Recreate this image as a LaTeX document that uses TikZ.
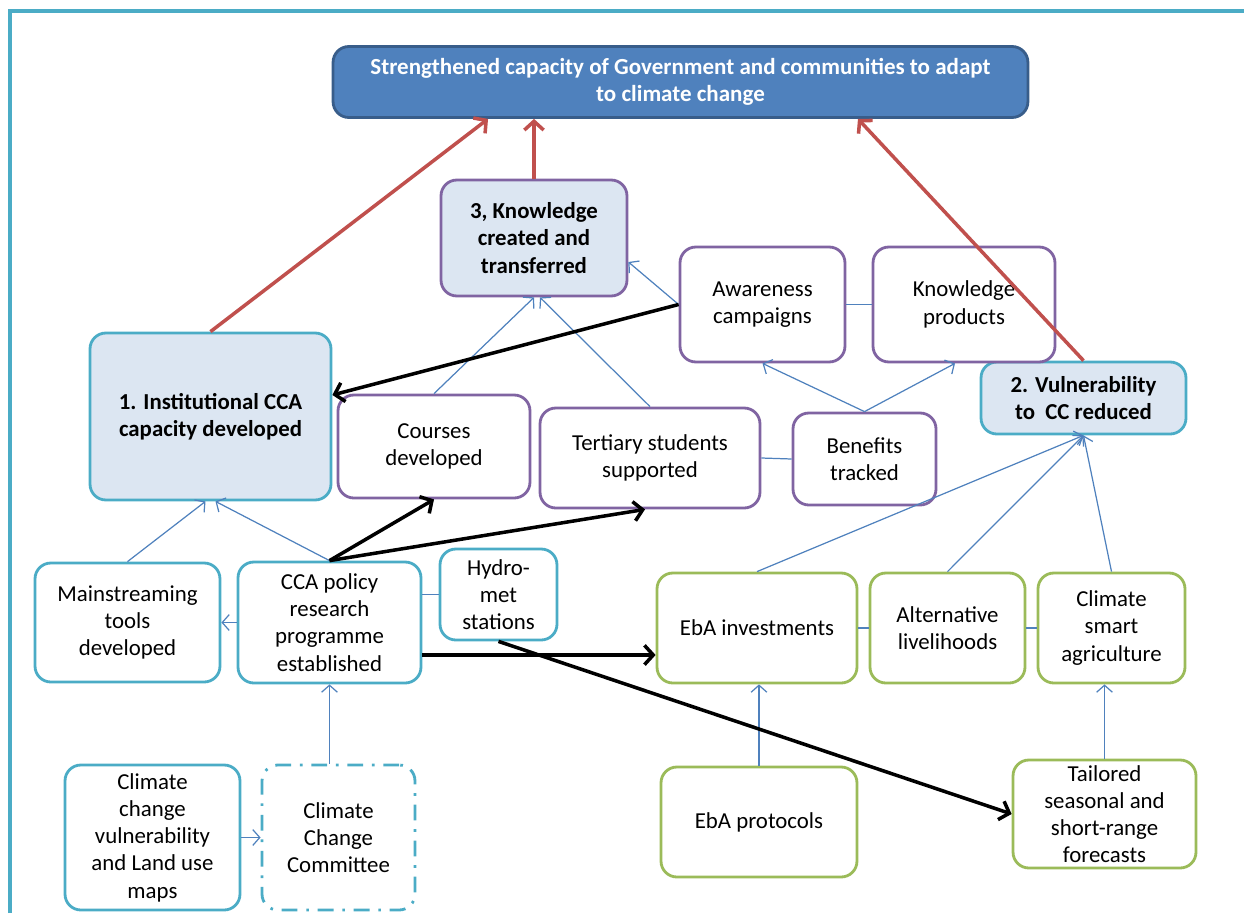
\documentclass[tikz,border=0pt]{standalone}
\usepackage{fontspec}
\setmainfont{Carlito}
\usetikzlibrary{arrows.meta}

\definecolor{frameteal}{RGB}{75,172,198}
\definecolor{instteal}{RGB}{75,172,198}
\definecolor{knowpurple}{RGB}{128,100,162}
\definecolor{fieldgreen}{RGB}{155,187,89}
\definecolor{paleblue}{RGB}{220,230,242}
\definecolor{goalblue}{RGB}{79,129,189}
\definecolor{goalrim}{RGB}{56,93,138}
\definecolor{linkblue}{RGB}{79,129,189}
\definecolor{liftred}{RGB}{192,80,77}

\begin{document}
\begin{tikzpicture}[x=0.02cm, y=-0.02cm,
	box/.style	= {draw, rounded corners=9pt, line width=1.6pt, align=center, inner sep=2pt, fill=white, font=\fontsize{13}{15.5}\selectfont},
	knowbox/.style	= {box, draw=knowpurple},
	instbox/.style	= {box, draw=instteal},
	fieldbox/.style	= {box, draw=fieldgreen},
	outcome/.style	= {fill=paleblue, font=\bfseries\fontsize{13}{15.5}\selectfont},
	goal/.style	= {box, draw=goalrim, fill=goalblue, text=white, font=\bfseries\fontsize{13.1}{15.5}\selectfont},
	link/.style	= {draw=linkblue, line width=0.7pt},
	feed/.style	= {link, -{Straight Barb[length=4pt,width=9pt]}},
	push/.style	= {line width=2pt, -{Straight Barb[length=5pt,width=11pt]}},
	lift/.style	= {push, draw=liftred},
	]
	\useasboundingbox (0,0) rectangle (1244,913);
	\draw[frameteal, line width=2.3pt] (10,913) -- (10,11) -- (1244,11);

	% goal and outcomes
	\node (goal) at (680.5, 82)	[goal, minimum width=13.9cm, minimum height=1.42cm]	{Strengthened capacity of Government and communities to adapt\\to climate change};
	\node (know) at (534, 238)	[knowbox, outcome, minimum width=3.72cm, minimum height=2.32cm]	{3, Knowledge\\created and\\transferred};
	\node (inst) at (210.5, 416.5)	[instbox, outcome, minimum width=4.82cm, minimum height=3.34cm]	{1. Institutional CCA\\capacity developed};
	\node (vuln) at (1083.5, 398)	[instbox, outcome, minimum width=4.1cm, minimum height=1.44cm]	{2. Vulnerability\\to\ \ CC reduced};

	% knowledge outputs
	\node (aware) at (762.5, 304.5)	[knowbox, minimum width=3.3cm, minimum height=2.3cm]	{Awareness\\campaigns};
	\node (prod) at (964, 304.5)	[knowbox, minimum width=3.64cm, minimum height=2.3cm]	{Knowledge\\products};
	\node (course) at (434, 446.5)	[knowbox, minimum width=3.84cm, minimum height=2.06cm]	{Courses\\developed};
	\node (tert) at (650, 458)	[knowbox, minimum width=4.4cm, minimum height=2.0cm]	{Tertiary students\\supported};
	\node (benef) at (864.5, 459)	[knowbox, minimum width=2.86cm, minimum height=1.84cm]	{Benefits\\tracked};

	% institutional outputs
	\node (mainst) at (127.5, 622.5)	[instbox, minimum width=3.7cm, minimum height=2.38cm]	{Mainstreaming\\tools\\developed};
	\node (policy) at (329.5, 622.5)	[instbox, minimum width=3.66cm, minimum height=2.42cm]	{CCA policy\\research\\programme\\established};
	\node (hydro) at (498.5, 594.5)	[instbox, minimum width=2.34cm, minimum height=1.82cm]	{Hydro-\\met\\stations};
	\node (maps) at (152.5, 837.5)	[instbox, minimum width=3.5cm, minimum height=2.9cm]	{Climate\\change\\vulnerability\\and Land use\\maps};
	\node (comm) at (338.5, 837.5)	[instbox, dash pattern=on 9pt off 5pt on 1.5pt off 5pt, minimum width=3.06cm, minimum height=2.9cm]	{Climate\\Change\\Committee};

	% vulnerability outputs
	\node (ebainv) at (757, 628)	[fieldbox, minimum width=4.0cm, minimum height=2.2cm]	{EbA investments};
	\node (altliv) at (947.5, 628)	[fieldbox, minimum width=3.1cm, minimum height=2.2cm]	{Alternative\\livelihoods};
	\node (smart) at (1111.5, 628)	[fieldbox, minimum width=2.94cm, minimum height=2.2cm]	{Climate\\smart\\agriculture};
	\node (ebaprot) at (759, 822)	[fieldbox, minimum width=3.92cm, minimum height=2.2cm]	{EbA protocols};
	\node (tailor) at (1104.5, 814)	[fieldbox, inner ysep=0pt, minimum width=3.66cm, minimum height=2.16cm]	{Tailored\\seasonal and\\short-range\\forecasts};

	% thin links
	\draw[feed] (aware.west) -- ([yshift=-0.48cm]know.east);
	\draw[feed] (course.north) -- (know.south);
	\draw[feed] (tert.north) -- ([xshift=0.12cm]know.south);
	\draw[link] (aware.east) -- (prod.west);
	\draw[link] (tert.east) -- (benef.west);
	\draw[feed] (benef.north) -- (aware.south);
	\draw[feed] (benef.north) -- ([xshift=-0.18cm]prod.south);
	\draw[feed] (mainst.north) -- ([xshift=-0.1cm]inst.south);
	\draw[feed] (policy.north) -- ([xshift=0.1cm]inst.south);
	\draw[feed] (policy.west) -- (mainst.east);
	\draw[link] (hydro.west) -- (hydro.west -| policy.east);
	\draw[feed] (policy.south |- comm.north) -- (policy.south);
	\draw[feed] (maps.east) -- (comm.west);
	\draw[feed] (ebainv.north) -- (vuln.south);
	\draw[feed] (altliv.north) -- (vuln.south);
	\draw[feed] (smart.north) -- (vuln.south);
	\draw[link] (ebainv.east) -- (altliv.west);
	\draw[link] (altliv.east) -- (smart.west);
	\draw[feed] (ebaprot.north) -- (ebaprot.north |- ebainv.south);
	\draw[feed] (tailor.north) -- (tailor.north |- smart.south);

	% thick links
	\draw[push] (aware.west) -- ([yshift=0.43cm]inst.east);
	\draw[push] (policy.north) -- (course.south);
	\draw[push] (policy.north) -- ([xshift=-0.1cm]tert.south);
	\draw[push] ([yshift=-0.65cm]policy.east) -- ([yshift=-0.65cm]policy.east -| ebainv.west);
	\draw[push] (hydro.south) -- (tailor.west);
	\draw[lift] (inst.north) -- ([xshift=-3.85cm]goal.south);
	\draw[lift] (know.north) -- (know.north |- goal.south);
	\draw[lift] (vuln.north) -- ([xshift=3.55cm]goal.south);
\end{tikzpicture}
\end{document}
